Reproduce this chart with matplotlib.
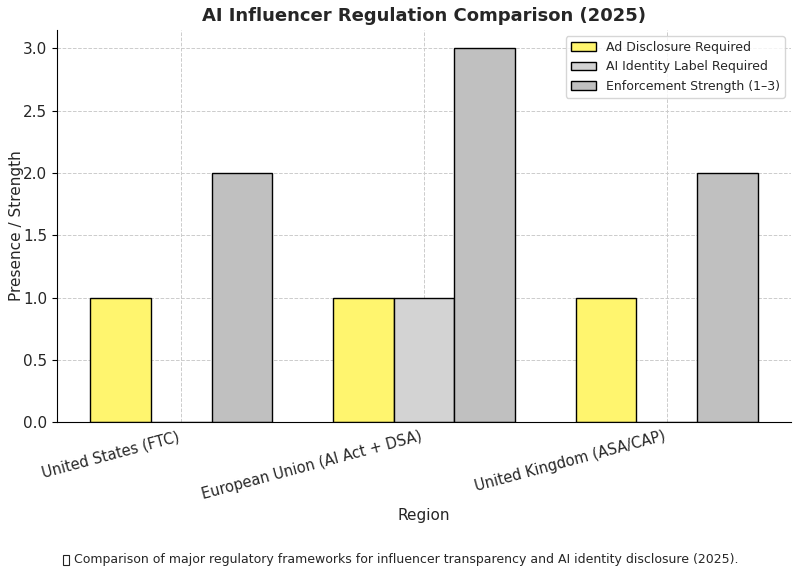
import numpy as np
import matplotlib.pyplot as plt
from matplotlib.patches import Rectangle

regions = ["United States (FTC)", "European Union (AI Act + DSA)", "United Kingdom (ASA/CAP)"]
ad_disclosure = [1, 1, 1]
ai_label = [0, 1, 0]
enforcement = [2, 3, 2]

plt.rcParams['text.color'] = '#262626'
plt.rcParams['axes.labelcolor'] = '#262626'
plt.rcParams['xtick.labelcolor'] = '#262626'
plt.rcParams['ytick.labelcolor'] = '#262626'

x = np.arange(len(regions))
width = 0.25

fig, ax = plt.subplots(figsize=(8, 5.73), dpi=100)
ax.bar(x - width, ad_disclosure, width, color='#fff56e', edgecolor='black', label='Ad Disclosure Required')
ax.bar(x, ai_label, width, color='#d3d3d3', edgecolor='black', label='AI Identity Label Required')
ax.bar(x + width, enforcement, width, color='#c0c0c0', edgecolor='black', label='Enforcement Strength (1–3)')

ax.set_xticks(x)
ax.set_xticklabels(regions, rotation=15, ha='right', fontsize=10.5)
ax.tick_params(axis='x', length=0, pad=5)
ax.tick_params(axis='y', labelsize=11)
ax.set_xlabel('Region', fontsize=11)
ax.set_ylabel('Presence / Strength', fontsize=11, labelpad=-1)
ax.set_title('AI Influencer Regulation Comparison (2025)', fontweight='bold', fontsize=13)
ax.legend(fontsize=9)
ax.grid(True, linestyle='--', color='#cccccc', linewidth=0.7)
ax.set_axisbelow(True)
for side in ['top', 'right']:
    ax.spines[side].set_visible(False)

fig.subplots_adjust(left=0.071, right=0.989, top=0.948, bottom=0.2635)

# footnote; the leading pin emoji has no glyph in any font, so draw it as an empty box
note = fig.text(0.5075, 0.0175, 'Comparison of major regulatory frameworks for influencer transparency and AI identity disclosure (2025).',
                ha='center', fontsize=9)
fig.canvas.draw()
bb = note.get_window_extent().transformed(fig.transFigure.inverted())
fig.patches.append(Rectangle((bb.x0 - 0.013, bb.y0 + 0.001), 0.0065, 0.019, transform=fig.transFigure,
                             fill=False, edgecolor='#222222', linewidth=0.8))

plt.savefig('out.png')
